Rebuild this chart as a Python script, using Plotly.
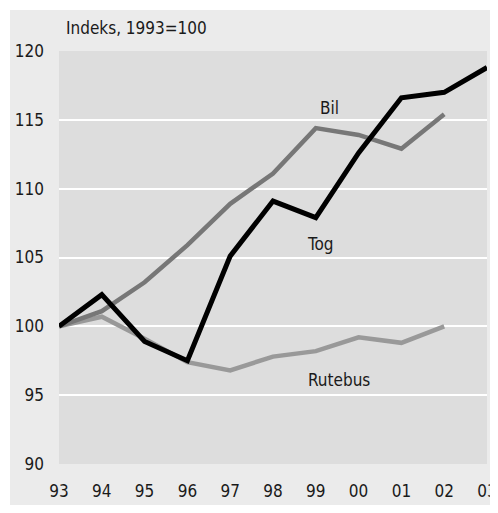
"""
Indeks for persontransport (1993=100) - Tog, Bil og Rutebus.
"""

import plotly.graph_objects as go

# Data
YEARS = [1993, 1994, 1995, 1996, 1997, 1998, 1999, 2000, 2001, 2002, 2003]
YEAR_LABELS = ["93", "94", "95", "96", "97", "98", "99", "00", "01", "02", "03"]

TOG = [100, 102.3, 98.9, 97.5, 105.1, 109.1, 107.9, 112.6, 116.6, 117.0, 118.8]
BIL = [100, 101.1, 103.2, 105.9, 108.9, 111.1, 114.4, 113.9, 112.9, 115.4]
RUTEBUS = [100, 100.7, 99.1, 97.4, 96.8, 97.8, 98.2, 99.2, 98.8, 100.0]

Y_TICKS = [90, 95, 100, 105, 110, 115, 120]

COLORS = {
    "tog": "#000000",
    "bil": "#777777",
    "rutebus": "#999999",
    "paper": "#ebebeb",
    "plot": "#dddddd",
    "text": "#1a1a1a",
}

FONT = "DejaVu Sans Condensed, Open Sans, sans-serif"
FONT_SIZE = 17

# page body has an 8px margin all round, so keep the figure inside the window
W, H = 482, 497
MARGIN = dict(l=51, r=3, t=43, b=41)

fig = go.Figure()

fig.add_trace(go.Scatter(
    x=YEARS[:len(RUTEBUS)], y=RUTEBUS, mode="lines", name="Rutebus",
    line=dict(color=COLORS["rutebus"], width=4.5),
))
fig.add_trace(go.Scatter(
    x=YEARS[:len(BIL)], y=BIL, mode="lines", name="Bil",
    line=dict(color=COLORS["bil"], width=4.5),
))
fig.add_trace(go.Scatter(
    x=YEARS, y=TOG, mode="lines", name="Tog",
    line=dict(color=COLORS["tog"], width=5),
))

# Series labels placed next to the lines
labels = [("Bil", 1999.33, 115.85), ("Tog", 1999.12, 106.0), ("Rutebus", 1999.55, 96.1)]
for text, x, y in labels:
    fig.add_annotation(
        x=x, y=y, text=text, showarrow=False,
        font=dict(size=FONT_SIZE, color=COLORS["text"], family=FONT),
    )

# Axis title on top of the y axis
fig.add_annotation(
    xref="paper", yref="paper", x=0.012, y=1.055,
    xanchor="left", yanchor="middle", showarrow=False,
    text="Indeks, 1993=100",
    font=dict(size=FONT_SIZE, color=COLORS["text"], family=FONT),
)

# Thin white strips so the grey starts 2px further in, as in the original
plot_w = W - MARGIN["l"] - MARGIN["r"]
plot_h = H - MARGIN["t"] - MARGIN["b"]
x0_paper = -MARGIN["l"] / plot_w
y1_paper = 1 + MARGIN["t"] / plot_h
fig.add_shape(type="rect", xref="paper", yref="paper", layer="below",
              x0=x0_paper, x1=x0_paper + 2 / plot_w, y0=-MARGIN["b"] / plot_h, y1=y1_paper,
              fillcolor="white", line_width=0)
fig.add_shape(type="rect", xref="paper", yref="paper", layer="below",
              x0=x0_paper, x1=1 + MARGIN["r"] / plot_w, y0=y1_paper - 2 / plot_h, y1=y1_paper,
              fillcolor="white", line_width=0)

fig.update_layout(
    width=W, height=H,
    margin=MARGIN,
    paper_bgcolor=COLORS["paper"],
    plot_bgcolor=COLORS["plot"],
    showlegend=False,
    font=dict(family=FONT, size=FONT_SIZE, color=COLORS["text"]),
    xaxis=dict(
        range=[1993, 2003],
        tickvals=YEARS, ticktext=YEAR_LABELS,
        showgrid=False, zeroline=False, showline=False,
        ticks="", ticklabelstandoff=15,
        ticklabeloverflow="allow",
        automargin=False,
        fixedrange=True,
    ),
    yaxis=dict(
        range=[90, 120],
        tickvals=Y_TICKS,
        showgrid=True, gridcolor="white", gridwidth=2,
        zeroline=False, showline=False,
        ticks="", ticklabelstandoff=14,
        automargin=False,
        fixedrange=True,
    ),
)

fig.write_html("out.html")
